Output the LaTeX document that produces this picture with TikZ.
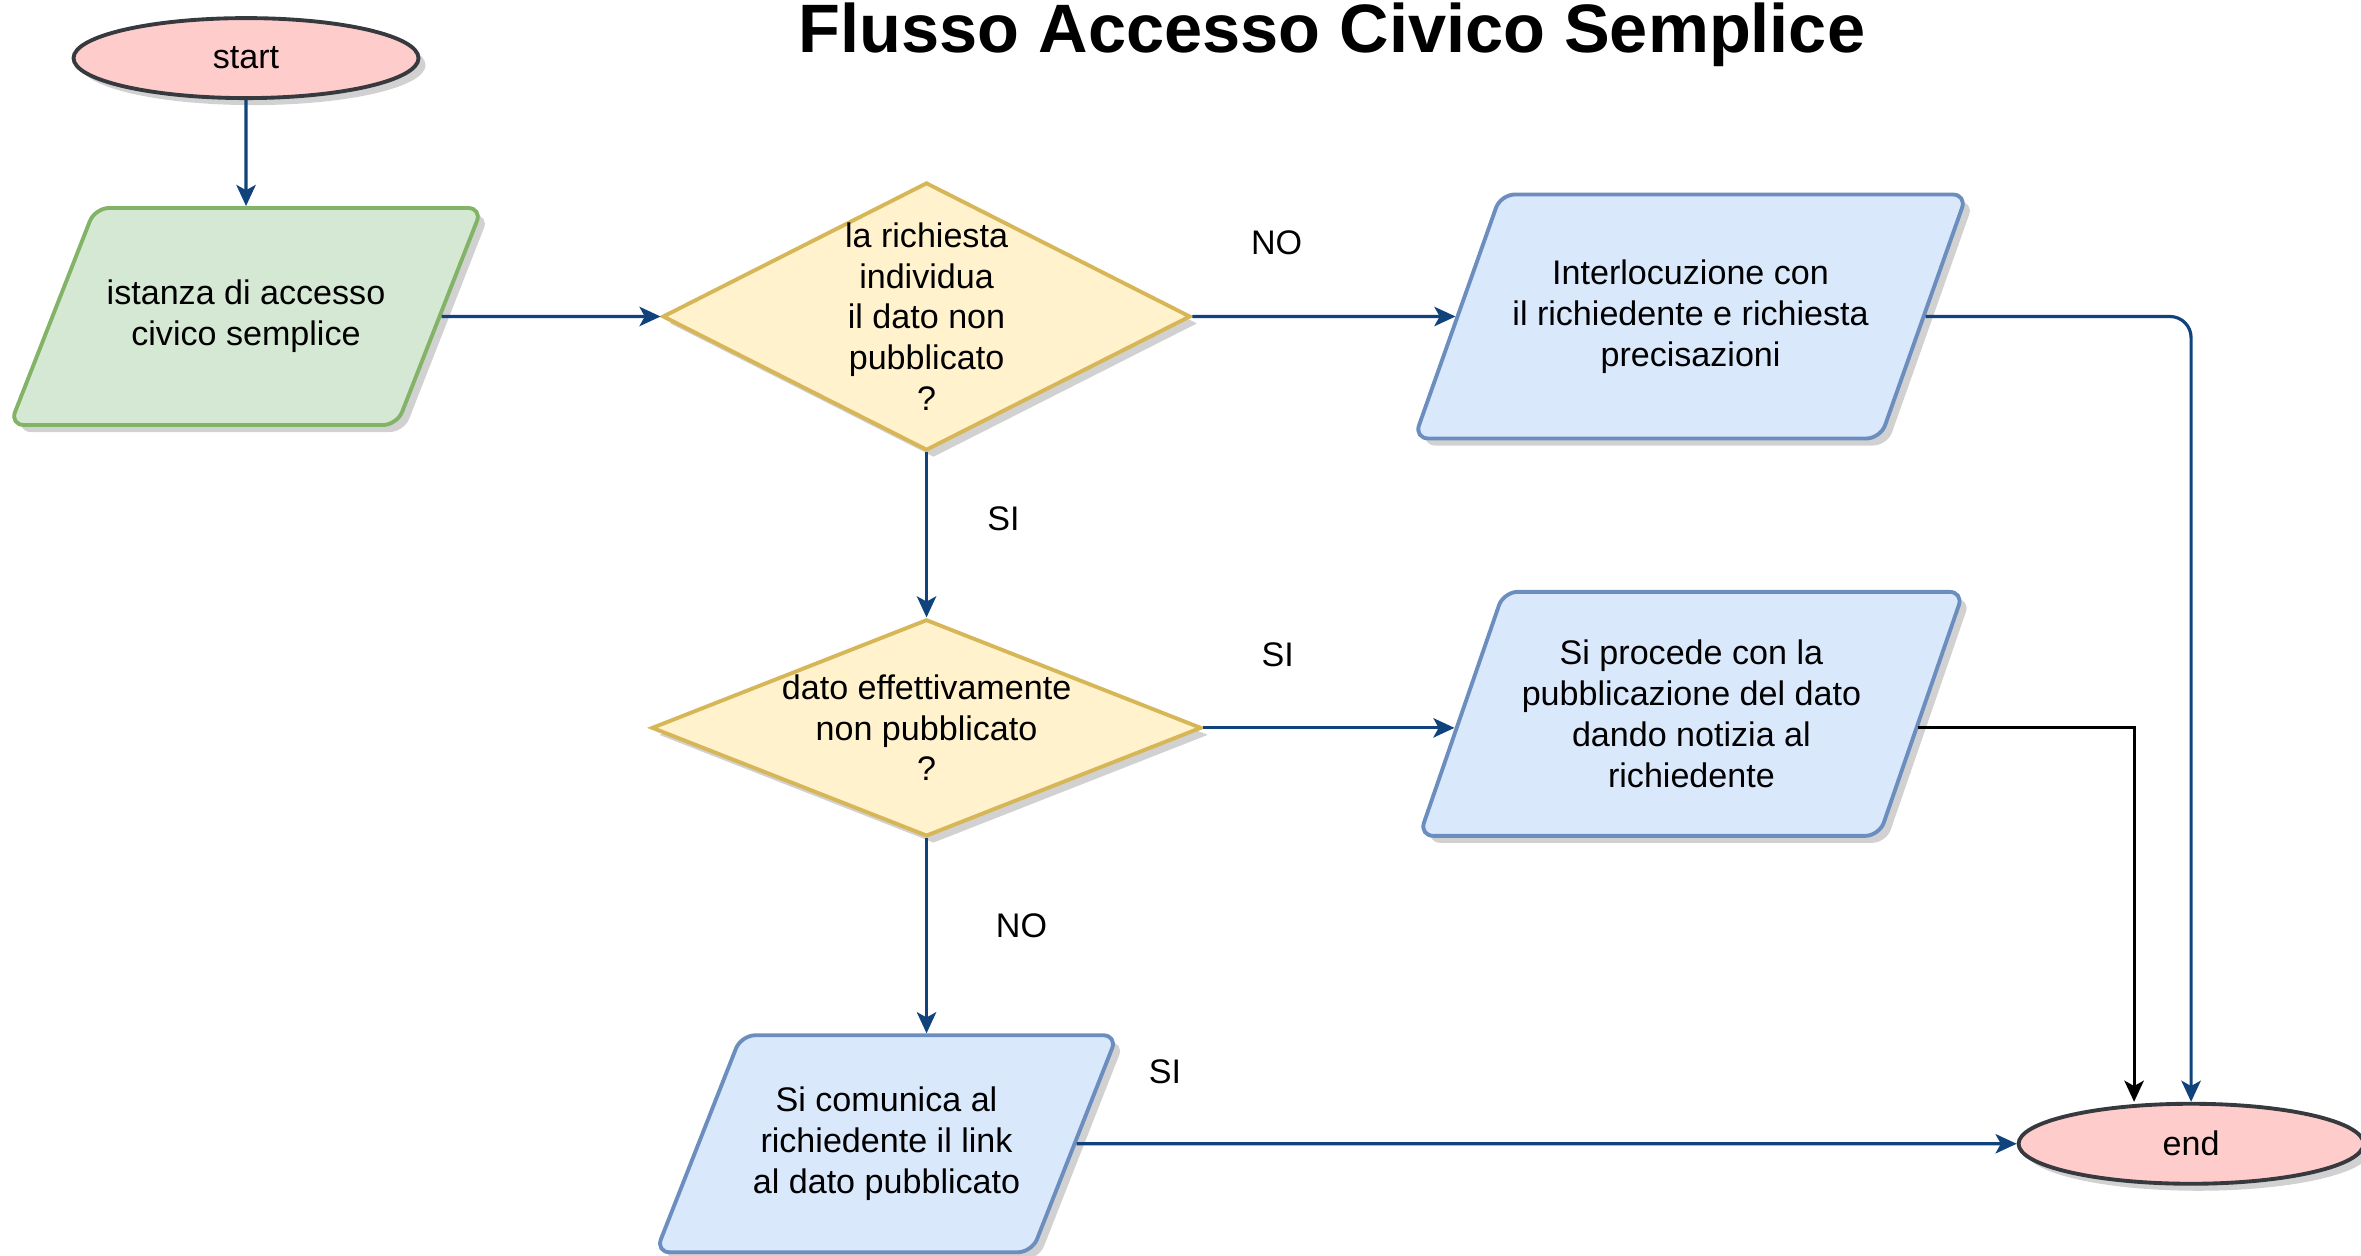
\documentclass[tikz,border=0pt]{standalone}
\usepackage{fontspec}
\setmainfont{Liberation Sans}
\usetikzlibrary{arrows.meta,positioning,shapes.geometric,shadows}

\definecolor{greenfill}{HTML}{D5E8D4}
\definecolor{greenline}{HTML}{82B366}
\definecolor{bluefill}{HTML}{DAE8FC}
\definecolor{blueline}{HTML}{6C8EBF}
\definecolor{yellowfill}{HTML}{FFF2CC}
\definecolor{yellowline}{HTML}{D6B656}
\definecolor{redfill}{HTML}{FFCCCC}
\definecolor{darkline}{HTML}{36393D}
\definecolor{arrowblue}{HTML}{10427C}

\begin{document}
\begin{tikzpicture}[font=\fontsize{9.7}{11.6}\selectfont, >={Stealth[length=6pt,width=5.5pt,inset=1.5pt]},
  castshadow/.style={drop shadow={shadow xshift=0.7mm, shadow yshift=-0.7mm, opacity=0.3, fill=black!60}},
  terminal/.style={ellipse, draw=darkline, fill=redfill, line width=1.1pt, minimum width=3.45cm, minimum height=0.8cm, castshadow},
  iobox/.style={trapezium, trapezium left angle=68, trapezium right angle=112, trapezium stretches body, rounded corners=4pt, line width=1.1pt, align=center, fill=#1fill, draw=#1line, castshadow},
  tall/.style={trapezium left angle=70, trapezium right angle=110},
  decision/.style={diamond, aspect=2, inner sep=-3mm, line width=1.1pt, fill=yellowfill, draw=yellowline, align=center, castshadow},
  flow/.style={->, line width=0.9pt, draw=arrowblue}]
  \useasboundingbox (0,0) rectangle (23.61,-12.56);
  \node[font=\fontsize{19.5}{23}\selectfont\bfseries, anchor=base] (title) at (13.32,-0.53) {Flusso Accesso Civico Semplice};
  % left column and first decision
  \node[iobox=green, inner ysep=0.69cm, minimum width=4.56cm, minimum height=2.17cm] (ist) at (2.46,-3.165) {istanza di accesso\\civico semplice};
  \node[terminal, above=1.06cm of ist] (start) {start};
  \node[decision, minimum width=5.28cm, minimum height=2.68cm, right=2.19cm of ist] (d1) {la richiesta\\individua\\il dato non\\pubblicato\\?};
  \node[iobox=blue, tall, inner ysep=0.62cm, minimum width=5.44cm, minimum height=2.44cm, right=2.63cm of d1] (int) {Interlocuzione con\\il richiedente e richiesta\\precisazioni};
  % second decision
  \node[decision, minimum width=5.5cm, minimum height=2.17cm, below=1.65cm of d1] (d2) {dato effettivamente\\non pubblicato\\?};
  \node[iobox=blue, tall, inner ysep=0.42cm, minimum width=5.44cm, minimum height=2.44cm, right=2.56cm of d2, yshift=1.4mm] (sp) {Si procede con la\\pubblicazione del dato\\dando notizia al\\richiedente};
  \node[iobox=blue, inner ysep=0.49cm, minimum width=4.59cm, minimum height=2.17cm, below=1.95cm of d2, xshift=-4mm] (sc) {Si comunica al\\richiedente il link\\al dato pubblicato};
  \node[terminal, right=9.4cm of sc] (finish) {end};
  % connectors
  \draw[flow] (start) -- (ist);
  \draw[flow] (ist) -- (d1);
  \draw[flow] (d1) -- node[pos=0.32, yshift=7.4mm] {NO} (int);
  \draw[flow] (d1) -- node[pos=0.4, xshift=7.7mm] {SI} (d2);
  \draw[flow, shorten >=0.5mm] (d2.east) -- node[pos=0.29, yshift=7.3mm] {SI} (d2.east -| sp.west);
  \draw[flow] (d2.south) -- node[pos=0.45, xshift=9.5mm] {NO} (d2.south |- sc.north);
  \draw[flow] (sc) -- node[pos=0.094, yshift=7.2mm] {SI} (finish);
  \draw[flow, rounded corners=6pt] (int) -| (finish);
  \draw[flow, draw=black, shorten <=-0.5mm] (d2.east -| sp.east) -| ([xshift=-5.7mm]finish.north);
\end{tikzpicture}
\end{document}
